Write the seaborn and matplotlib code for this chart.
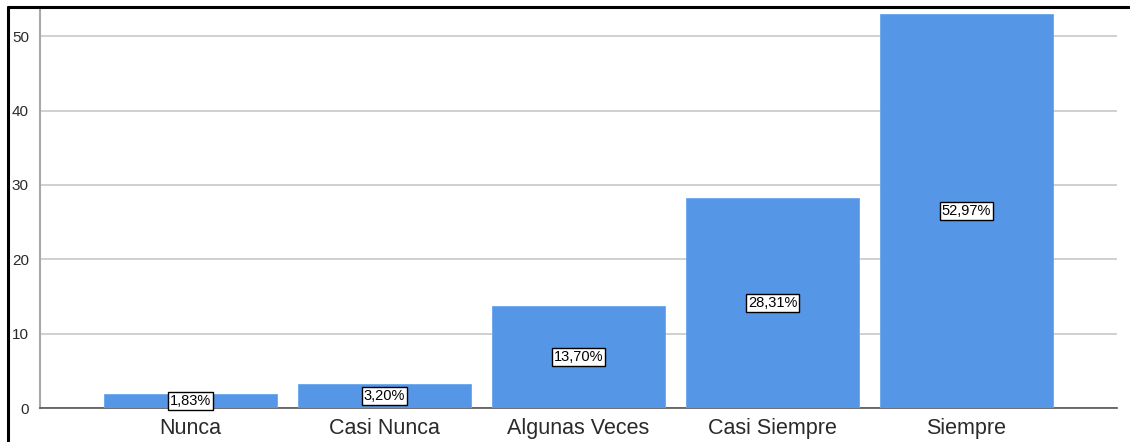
import matplotlib
matplotlib.use("Agg")
import matplotlib.pyplot as plt
from matplotlib.lines import Line2D
import seaborn as sns
import pandas as pd

# Response categories and their share of answers (%)
categories = ["Nunca", "Casi Nunca", "Algunas Veces", "Casi Siempre", "Siempre"]
percentages = [1.83, 3.20, 13.70, 28.31, 52.97]
y_ticks = [0, 10, 20, 30, 40, 50]

sns.set_theme(style="white")
plt.rcParams["font.family"] = ["Liberation Sans", "DejaVu Sans"]

df = pd.DataFrame({"categoria": categories, "porcentaje": percentages})

fig = plt.figure(figsize=(11.3, 4.42), dpi=100)
ax = fig.add_axes([0.0354, 0.0769, 0.9531, 0.905])

sns.barplot(data=df, x="categoria", y="porcentaje", color="#5596E6",
            saturation=1, width=0.89, ax=ax, zorder=3,
            edgecolor="#6AA6EE", linewidth=0.6)

ax.set_xlim(-0.776, 4.776)
ax.set_ylim(0, 53.8)
ax.set_yticks(y_ticks)
ax.set_yticklabels([str(t) for t in y_ticks])
ax.yaxis.grid(True, color="#D0D0D0", linewidth=1.4, zorder=0)
ax.set_axisbelow(True)
ax.set_xlabel("")
ax.set_ylabel("")

ax.tick_params(axis="y", length=0, pad=8, labelsize=11, labelcolor="#2A2A2A")
ax.tick_params(axis="x", length=0, pad=7, labelsize=15.5, labelcolor="#2A2A2A")

for side in ("top", "right"):
    ax.spines[side].set_visible(False)
ax.spines["left"].set_color("#A8A8A8")
ax.spines["left"].set_linewidth(1.5)
ax.spines["bottom"].set_color("#555555")
ax.spines["bottom"].set_linewidth(1.2)

# Value labels centred on each bar's half height
for i, v in enumerate(percentages):
    ax.text(i, v / 2, f"{v:.2f}".replace(".", ",") + "%",
            ha="center", va="center", fontsize=10.5, color="black", zorder=5,
            bbox=dict(boxstyle="square,pad=0.15", fc="white", ec="black", lw=1.0))

# Page frame lines (top and left)
fig.add_artist(Line2D([8 / 1130, 1.0], [1 - 7 / 442, 1 - 7 / 442],
                      transform=fig.transFigure, color="black", lw=2.2))
fig.add_artist(Line2D([8 / 1130, 8 / 1130], [0.0, 1 - 7 / 442],
                      transform=fig.transFigure, color="black", lw=2.2))

fig.savefig("out.png", dpi=100, facecolor="white")
